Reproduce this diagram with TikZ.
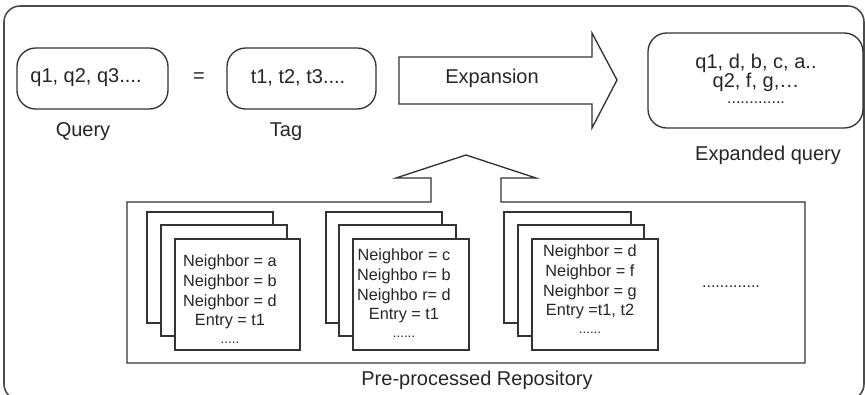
\documentclass[tikz,border=0pt]{standalone}
\usepackage{fontspec}
\setmainfont{Liberation Sans}
\begin{document}
\begin{tikzpicture}[x=0.75pt,y=-0.75pt,
  line width=1pt, draw=black!80,
  every node/.style={text=black!85},
  lbl/.style={font=\fontsize{15}{18}\selectfont},
  pill/.style={draw=black!80, rounded corners=14pt, line width=1pt},
  card/.style={draw=black!80, fill=white, line width=1pt},
  ctext/.style={font=\fontsize{12.2}{14.8}\selectfont, align=center}]
\useasboundingbox (0,0) rectangle (865,394);
\begin{scope}
\clip (0,0) rectangle (865,394);
\draw[rounded corners=12pt, draw=black!70, line width=1.2pt] (4,6) rectangle (864,400);
\end{scope}

% Query and Tag
\draw[pill] (17,48) rectangle (168,109);
\node[lbl] (q) at (86,78) {q1, q2, q3....};
\node[lbl] (ql) at (83,132) {Query};
\node[lbl] (eq) at (199,78) {=};
\draw[pill] (227,48) rectangle (376,109);
\node[lbl] (t) at (298,78) {t1, t2, t3....};
\node[lbl] (tl) at (286,132) {Tag};

% Expansion arrow
\draw (399,57) -- (592,57) -- (592,33) -- (617,80) -- (592,128) -- (592,104) -- (399,104) -- cycle;
\node[lbl] (exp) at (492,78) {Expansion};

% Expanded query
\draw[pill] (648,33) rectangle (863,128);
\node[lbl] (xq1) at (756,63) {q1, d, b, c, a..};
\node[lbl] (xq2) at (756,82) {q2, f, g,\dots};
\node[font=\fontsize{12}{14}\selectfont] (xq3) at (756,103) {.............};
\node[lbl] (xql) at (768,155) {Expanded query};

% Repository with upward arrow
\draw (431,202) -- (127,202) -- (127,363) -- (805,363) -- (805,202) -- (501,202)
  -- (501,178) -- (536,178) -- (466,155) -- (396,178) -- (431,178) -- cycle;
\node[lbl] (repo) at (477,380) {Pre-processed Repository};

% Stack 1
\draw[card] (147,212) rectangle (273,323);
\draw[card] (161,225) rectangle (287,336);
\draw[card] (175,239) rectangle (300,350);
\node[ctext] (c1) at (230,299) {Neighbor = a\\Neighbor = b\\Neighbor = d\\Entry = t1\\[-2pt]{\fontsize{10}{12}\selectfont .....}};

% Stack 2
\draw[card] (326,212) rectangle (442,323);
\draw[card] (339,225) rectangle (456,336);
\draw[card] (353,239) rectangle (469,350);
\node[ctext] (c2) at (404,293) {Neighbor = c\\Neighbo r= b\\Neighbo r= d\\Entry = t1\\[-2pt]{\fontsize{10}{12}\selectfont ......}};

% Stack 3
\draw[card] (504,212) rectangle (631,323);
\draw[card] (518,225) rectangle (644,336);
\draw[card] (532,239) rectangle (658,350);
\node[ctext] (c3) at (590,289) {Neighbor = d\\Neighbor = f\\Neighbor = g\\Entry =t1, t2\\[-2pt]{\fontsize{10}{12}\selectfont ......}};

\node[font=\fontsize{12}{14}\selectfont] (more) at (731,287) {.............};
\end{tikzpicture}
\end{document}
